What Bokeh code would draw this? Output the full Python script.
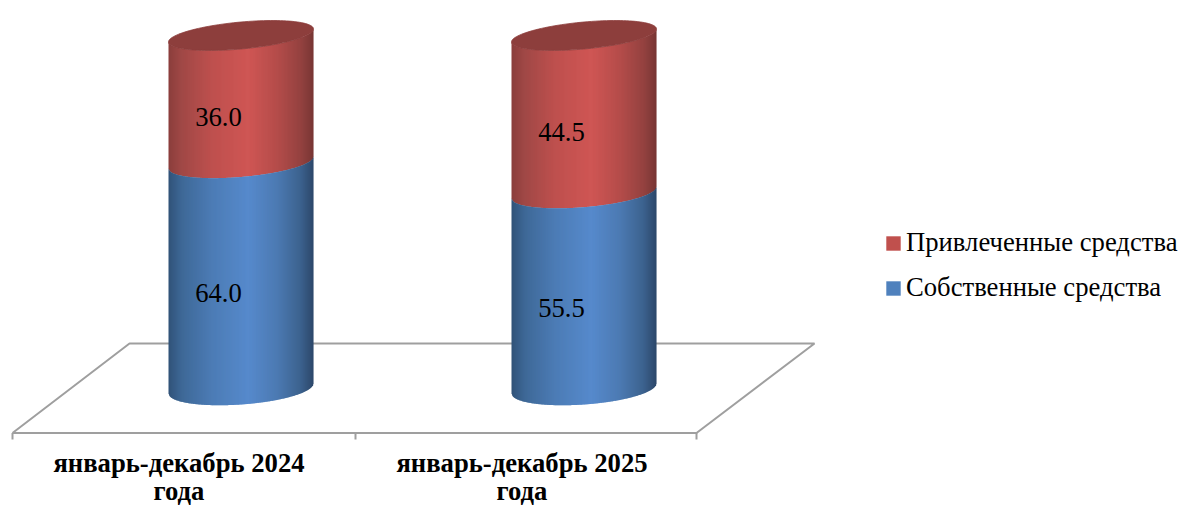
import numpy as np
from bokeh.plotting import figure
from bokeh.embed import file_html
from bokeh.resources import INLINE
from bokeh.models import Legend, LegendItem
from bokeh.core.properties import value

categories = ["январь-декабрь 2024\nгода", "январь-декабрь 2025\nгода"]
own_funds = [64.0, 55.5]
raised_funds = [36.0, 44.5]
series_names = ["Привлеченные средства", "Собственные средства"]

W, H = 1182, 506
X0, DX = 240.5, 343.0
Y0, SY = 388.0, 3.53
def dx(px): return (px - X0) / DX
def dy(py): return (Y0 - py) / SY

p = figure(width=W, height=H, output_backend="svg", toolbar_location=None,
           x_range=(dx(0), dx(W)), y_range=(dy(H), dy(0)),
           min_border=0, outline_line_color=None, background_fill_color="white")
p.axis.visible = False
p.grid.visible = False

# floor
GRAY = "#9f9f9f"
p.line([dx(v) for v in (12, 129, 814, 696, 12)], [dy(v) for v in (432.5, 343, 343, 432.5, 432.5)],
       line_color=GRAY, line_width=2)
for tx in (12, 355, 696):
    p.line([dx(tx), dx(tx)], [dy(432.5), dy(439)], line_color=GRAY, line_width=2)

HALF = 72.5 / DX

def tilt(v): return (5.0 + 0.015 * v) / SY
def depth(v): return (16.0 - 0.025 * v) / SY
def front(v, u): return v + tilt(v) * u - depth(v) * np.sqrt(np.clip(1 - u * u, 0, 1))

STOPS = np.array([-1, -0.82, -0.4, 0.1, 0.5, 0.82, 1.0])
BLUE = np.array([[48, 82, 120], [62, 104, 150], [76, 124, 181], [86, 137, 204], [76, 122, 178], [60, 98, 142], [44, 72, 106]])
RED = np.array([[138, 62, 60], [160, 72, 70], [190, 80, 78], [207, 86, 84], [180, 76, 74], [148, 66, 64], [120, 54, 52]])

def shade(stops, u):
    rgb = [int(round(np.interp(u, STOPS, stops[:, i]))) for i in range(3)]
    return "#%02x%02x%02x" % tuple(rgb)

N = 145
def body(cx, lo, hi, stops):
    edges = np.linspace(-1, 1, N + 1)
    step = edges[1] - edges[0]
    xs, ys, cs = [], [], []
    for a, b in zip(edges[:-1], edges[1:]):
        c = min(b + step * 0.6, 1.0)
        xs.append([cx + a * HALF, cx + c * HALF, cx + c * HALF, cx + a * HALF])
        ys.append([front(lo, a), front(lo, c), front(hi, c), front(hi, a)])
        cs.append(shade(stops, (a + b) / 2))
    p.patches(xs, ys, fill_color=cs, line_color=None)

for i, (a, b) in enumerate(zip(own_funds, raised_funds)):
    top = a + b
    body(i, a, top, RED)
    body(i, 0, a, BLUE)
    t = np.linspace(0, 2 * np.pi, 121)
    u = np.cos(t)
    p.patch(i + u * HALF, top + tilt(top) * u + depth(top) * np.sin(t),
            fill_color="#8d3e3c", line_color="#8d3e3c", line_width=0.8)

# value labels
lx, ly, lt = [], [], []
for i, (a, b) in enumerate(zip(own_funds, raised_funds)):
    lx += [i, i]; ly += [a / 2, a + b / 2]; lt += [f"{a:.1f}", f"{b:.1f}"]
p.text(lx, ly, text=lt, x_offset=-22.5, y_offset=17.5, text_align="center", text_baseline="middle",
       text_font=value("Liberation Serif"), text_font_size="26.67px", text_color="#000000")

# category labels
p.text(list(range(len(categories))), [0, 0], text=categories, x_offset=-62, y_offset=88.5,
       text_align="center", text_baseline="middle", text_font=value("Liberation Serif"),
       text_font_style="bold", text_font_size="26.67px", text_color="#000000", text_line_height=0.96)

# legend
nan = float("nan")
r1 = p.quad(left=[nan], right=[nan], top=[nan], bottom=[nan], fill_color="#c0504d", line_color=None)
r2 = p.quad(left=[nan], right=[nan], top=[nan], bottom=[nan], fill_color="#4f81bd", line_color=None)
legend = Legend(items=[LegendItem(label=series_names[0], renderers=[r1]),
                       LegendItem(label=series_names[1], renderers=[r2])],
                location=(884, 203), orientation="vertical", border_line_color=None,
                background_fill_alpha=0, padding=0, margin=0, spacing=14, glyph_width=18, glyph_height=18,
                label_height=30, label_standoff=4, label_text_font="Liberation Serif",
                label_text_font_size="26.67px", label_text_color="#000000")
p.add_layout(legend, "center")

open("out.html", "w").write(file_html(p, INLINE))
